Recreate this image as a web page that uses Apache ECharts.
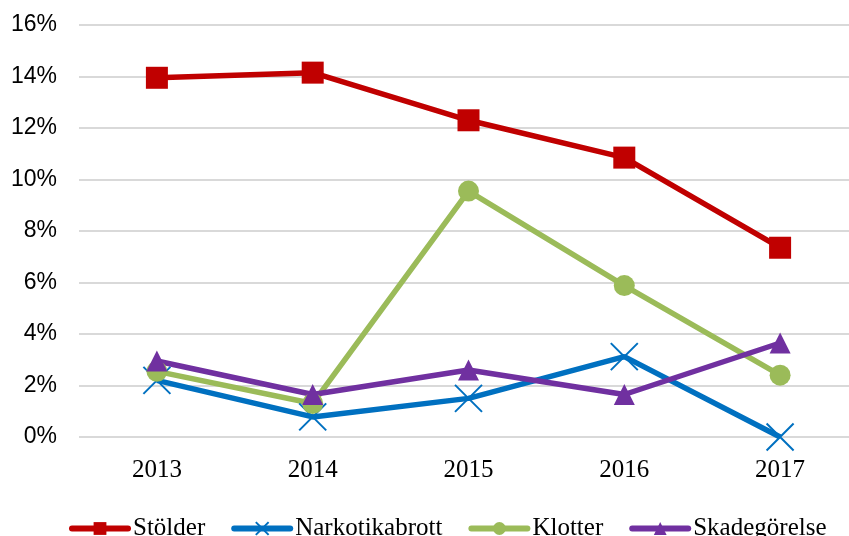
<!DOCTYPE html>
<html><head><meta charset="utf-8">
<script src="https://cdn.jsdelivr.net/npm/echarts@6/dist/echarts.min.js"></script>
<style>html,body{margin:0;padding:0;background:#fff}#c{width:849px;height:536px}</style>
</head><body><div id="c"></div>
<script>
const years = ['2013','2014','2015','2016','2017'];
const stolder = [13.95, 14.15, 12.3, 10.85, 7.35];
const narkotikabrott = [2.2, 0.78, 1.5, 3.12, 0.0];
const klotter = [2.55, 1.3, 9.55, 5.88, 2.4];
const skadegorelse = [2.95, 1.65, 2.6, 1.65, 3.65];
const seriesNames = ['Stölder','Narkotikabrott','Klotter','Skadegörelse'];
const colors = ['#C00000','#0070C0','#9BBB59','#7030A0'];

const chart = echarts.init(document.getElementById('c'), null, {renderer:'canvas'});
function mk(name, data, color, symbol, size, extraItem){
  return {
    name, type:'line', data, symbol, symbolSize:size,
    lineStyle:{color, width:5.5},
    itemStyle:Object.assign({color}, extraItem||{}),
    emphasis:{disabled:true}, animation:false
  };
}
chart.setOption({
  animation:false,
  grid:{left:79, width:779, top:25, height:412, containLabel:false, outerBoundsMode:'none'},
  legend:{
    top:511, left:64, itemWidth:56, itemHeight:16, itemGap:26,
    lineStyle:{width:6, cap:'round'},
    textStyle:{fontFamily:'Liberation Serif', fontSize:25, color:'#000'},
    data:seriesNames
  },
  xAxis:{
    type:'category', data:years, boundaryGap:true,
    axisLine:{show:false}, axisTick:{show:false},
    axisLabel:{fontFamily:'Liberation Serif', fontSize:25, color:'#000', margin:21}
  },
  yAxis:{
    type:'value', min:0, max:16, interval:2,
    axisLine:{show:false}, axisTick:{show:false},
    splitLine:{lineStyle:{color:'#D9D9D9', width:2}},
    axisLabel:{formatter:'{value}%', fontFamily:'Liberation Sans', fontSize:23, color:'#000', margin:22}
  },
  series:[
    mk(seriesNames[0], stolder, colors[0], 'rect', 22),
    mk(seriesNames[1], narkotikabrott, colors[1], 'path://M0,0L10,10M10,0L0,10', 27, {borderColor:colors[1], borderWidth:2}),
    mk(seriesNames[2], klotter, colors[2], 'circle', 21),
    mk(seriesNames[3], skadegorelse, colors[3], 'triangle', 21)
  ]
});
</script></body></html>
